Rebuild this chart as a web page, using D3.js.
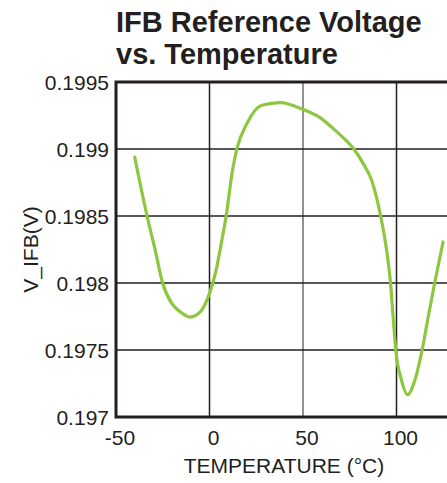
<!DOCTYPE html>
<meta charset="utf-8">
<head>
  <title>IFB Reference Voltage vs. Temperature</title>
</head>
<body>
<style>
  html, body {
    margin: 0;
    padding: 0;
    background: #fff;
  }
  * {
    font-family: "Liberation Sans", Arial, sans-serif;
  }
  .title {
    font-size: 29px;
    font-weight: bold;
    fill: #231f20;
  }
  .tick-label, .axis-title {
    font-size: 21px;
    fill: #231f20;
  }
  .grid line {
    stroke: #231f20;
    stroke-width: 1.5px;
  }
  .frame {
    stroke: #231f20;
    stroke-width: 3px;
    fill: none;
  }
  .curve {
    fill: none;
    stroke: #8dc63f;
    stroke-width: 3.2px;
    stroke-linejoin: round;
    stroke-linecap: round;
  }
</style>
<div class="chart"></div>
<script src="https://cdn.jsdelivr.net/npm/d3@7"></script>
<script>

var titleLines = ["IFB Reference Voltage", "vs. Temperature"];
var xTicks = [-50, 0, 50, 100];
var yTicks = [0.197, 0.1975, 0.198, 0.1985, 0.199, 0.1995];
var yTickLabels = ["0.197", "0.1975", "0.198", "0.1985", "0.199", "0.1995"];

// temperature (°C)
var temps = [-40.0, -33.4, -29.0, -25.1, -20.1, -15.6, -10.3, -5.0, -1.4, 1.8, 3.9, 6.6,
             8.9, 12.0, 14.6, 20, 28, 37.7, 50.2, 59.1, 66.2, 72.4, 77.2, 82.2, 86.7,
             91.5, 94.7, 96.8, 98.2, 99.6, 102.7, 105.9, 109.8, 113.7, 117.0, 120.4, 124.9];
// V_IFB (V)
var volts = [0.19894, 0.1985, 0.198244, 0.198, 0.197846, 0.197784, 0.197746, 0.197784,
             0.197871, 0.198, 0.19812, 0.198319, 0.198498, 0.198816, 0.199, 0.19919,
             0.199326, 0.199346, 0.199294, 0.199234, 0.199152, 0.199072, 0.199, 0.198891,
             0.198766, 0.1985, 0.198244, 0.198, 0.197746, 0.1975, 0.197274, 0.197167,
             0.197274, 0.1975, 0.19775, 0.198, 0.198306];

var width = 447,
    height = 483,
    margin = {top: 82, right: 0, bottom: 66, left: 116};

var svg = d3.select(".chart").append("svg")
    .attr("width", width)
    .attr("height", height);

var x = d3.scaleLinear()
    .domain([-50, 127])
    .range([margin.left, width - margin.right]);

var y = d3.scaleLinear()
    .domain([0.197, 0.1995])
    .range([height - margin.bottom, margin.top]);

// title
svg.selectAll(".title")
    .data(titleLines)
  .enter().append("text")
    .attr("class", "title")
    .attr("x", margin.left)
    .attr("y", function(d, i) { return 32 + i * 31.5; })
    .text(function(d) { return d; });

// grid
var grid = svg.append("g").attr("class", "grid");

grid.selectAll(".vline")
    .data(xTicks.slice(1))
  .enter().append("line")
    .attr("x1", x).attr("x2", x)
    .attr("y1", y(0.1995)).attr("y2", y(0.197))
    .style("stroke", function(d) { return d === 50 ? "#6d6e71" : null; });

grid.selectAll(".hline")
    .data(yTicks.slice(1, -1))
  .enter().append("line")
    .attr("x1", x(-50)).attr("x2", width)
    .attr("y1", y).attr("y2", y);

// frame: left, bottom, top
svg.append("path")
    .attr("class", "frame")
    .attr("d", "M" + width + "," + y(0.1995) + "H" + x(-50) + "V" + y(0.197) + "H" + width);

// curve
var line = d3.line()
    .x(function(d, i) { return x(temps[i]); })
    .y(function(d) { return y(d); })
    .curve(d3.curveMonotoneX);

svg.append("path")
    .datum(volts)
    .attr("class", "curve")
    .attr("d", line);

// y tick labels
svg.selectAll(".ylabel")
    .data(yTicks)
  .enter().append("text")
    .attr("class", "tick-label")
    .attr("x", margin.left - 7)
    .attr("y", function(d) { return y(d) + 7.5; })
    .attr("text-anchor", "end")
    .text(function(d, i) { return yTickLabels[i]; });

// x tick labels
svg.selectAll(".xlabel")
    .data(xTicks)
  .enter().append("text")
    .attr("class", "tick-label")
    .attr("x", function(d) { return x(d) + 4; })
    .attr("y", 445)
    .attr("text-anchor", "middle")
    .text(function(d) { return d; });

// axis titles
svg.append("text")
    .attr("class", "axis-title")
    .attr("x", 284)
    .attr("y", 473)
    .attr("text-anchor", "middle")
    .text("TEMPERATURE (°C)");

svg.append("text")
    .attr("class", "axis-title")
    .attr("transform", "translate(38," + ((y(0.1995) + y(0.197)) / 2) + ") rotate(-90)")
    .attr("text-anchor", "middle")
    .text("V_IFB(V)");

</script>
</body>
